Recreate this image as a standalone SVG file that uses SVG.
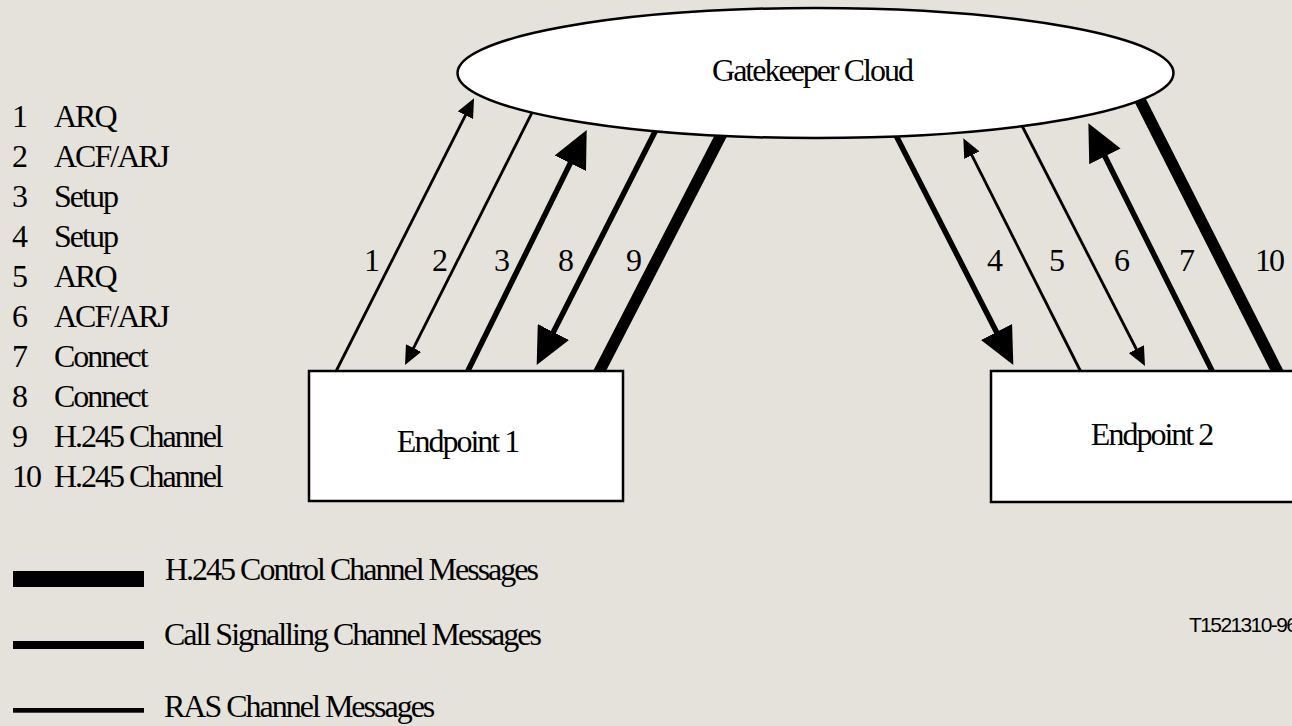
<svg xmlns="http://www.w3.org/2000/svg" width="1292" height="726" viewBox="0 0 1292 726">
<style>
.bg{fill:#E4E2DA}
.t{font-family:"Liberation Serif","Times New Roman",serif;font-size:32px;letter-spacing:-2px;fill:#000}
.c{text-anchor:middle}
.node{fill:#fff;stroke:#000;stroke-width:2.5}
.ras{stroke:#000;stroke-width:2.8;fill:none}
.sig{stroke:#000;stroke-width:5.5;fill:none}
.h245{stroke:#000;stroke-width:11.5;fill:none}
.sa{marker-end:url(#hs)}
.ba{marker-end:url(#hb)}
.code{font-family:"Liberation Sans",Arial,sans-serif;font-size:21px;letter-spacing:-1.6px;fill:#000}
</style>
<defs>
<marker id="hs" markerUnits="userSpaceOnUse" markerWidth="20" markerHeight="17" refX="1" refY="8.5" orient="auto"><path d="M0,0 L19,8.5 L0,17 z" fill="#000"/></marker>
<marker id="hb" markerUnits="userSpaceOnUse" markerWidth="38" markerHeight="35" refX="2" refY="17.5" orient="auto"><path d="M0,0 L37,17.5 L0,35 z" fill="#000"/></marker>
</defs>
<rect class="bg" x="0" y="0" width="1292" height="726"/>

<g id="connectors">
<line id="c1" class="ras sa" x1="334.4" y1="374.5" x2="465.9" y2="114.4"/>
<line id="c2" class="ras sa" x1="534" y1="108.7" x2="413.1" y2="348.9"/>
<line id="c3" class="sig ba" x1="466.1" y1="374.5" x2="571.2" y2="161.4"/>
<line id="c8" class="sig ba" x1="656.9" y1="127.9" x2="552.5" y2="333.8"/>
<line id="c9" class="h245" x1="723.7" y1="130.2" x2="597.3" y2="375.3"/>
<line id="c4" class="sig ba" x1="894.5" y1="132.5" x2="997.4" y2="333.8"/>
<line id="c5" class="ras sa" x1="1082.2" y1="374.5" x2="971.4" y2="154.4"/>
<line id="c6" class="ras sa" x1="1020.6" y1="123" x2="1136.8" y2="350"/>
<line id="c7" class="sig ba" x1="1213.9" y1="374.5" x2="1104" y2="154.6"/>
<line id="c10" class="h245" x1="1136.4" y1="92.9" x2="1279" y2="374.5"/>
</g>

<g id="gatekeeper">
<ellipse class="node" cx="815.5" cy="73" rx="358" ry="65" stroke-width="3"/>
<text class="t c" x="812" y="81">Gatekeeper Cloud</text>
</g>
<g id="endpoint1">
<rect class="node" x="309" y="371" width="314" height="130"/>
<text class="t c" x="457.5" y="452">Endpoint 1</text>
</g>
<g id="endpoint2">
<rect class="node" x="991" y="371" width="320" height="131"/>
<text class="t c" x="1151.5" y="445">Endpoint 2</text>
</g>

<g id="line-labels">
<text class="t c" x="371" y="271">1</text>
<text class="t c" x="439" y="271">2</text>
<text class="t c" x="501" y="271">3</text>
<text class="t c" x="565" y="271">8</text>
<text class="t c" x="633" y="271">9</text>
<text class="t c" x="994" y="271">4</text>
<text class="t c" x="1056" y="271">5</text>
<text class="t c" x="1121" y="271">6</text>
<text class="t c" x="1186" y="271">7</text>
<text class="t c" x="1269" y="271">10</text>
</g>

<g id="message-list">
<text class="t" x="12" y="127">1</text><text class="t" x="54" y="127">ARQ</text>
<text class="t" x="12" y="167">2</text><text class="t" x="54" y="167">ACF/ARJ</text>
<text class="t" x="12" y="207">3</text><text class="t" x="54" y="207">Setup</text>
<text class="t" x="12" y="247">4</text><text class="t" x="54" y="247">Setup</text>
<text class="t" x="12" y="287">5</text><text class="t" x="54" y="287">ARQ</text>
<text class="t" x="12" y="327">6</text><text class="t" x="54" y="327">ACF/ARJ</text>
<text class="t" x="12" y="367">7</text><text class="t" x="54" y="367">Connect</text>
<text class="t" x="12" y="407">8</text><text class="t" x="54" y="407">Connect</text>
<text class="t" x="12" y="447">9</text><text class="t" x="54" y="447">H.245 Channel</text>
<text class="t" x="12" y="487">10</text><text class="t" x="54" y="487">H.245 Channel</text>
</g>

<g id="legend">
<rect x="13" y="571" width="131" height="16" fill="#000"/>
<text class="t" x="165" y="580">H.245 Control Channel Messages</text>
<rect x="13" y="641" width="131" height="8" fill="#000"/>
<text class="t" x="164" y="645">Call Signalling Channel Messages</text>
<rect x="13" y="708" width="131" height="4.7" fill="#000"/>
<text class="t" x="164" y="717">RAS Channel Messages</text>
</g>

<text class="code" x="1189" y="632">T1521310-96</text>
</svg>
